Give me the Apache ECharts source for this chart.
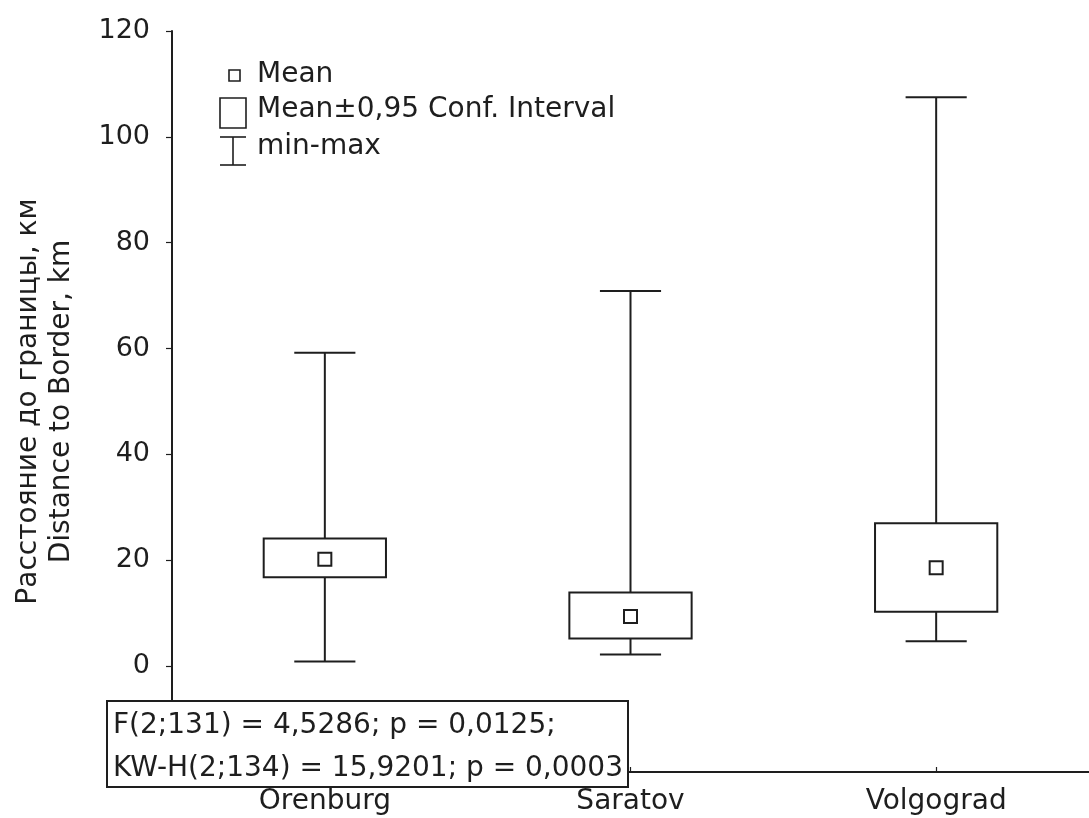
<!DOCTYPE html>
<html>
<head>
<meta charset="utf-8">
<script src="https://cdn.jsdelivr.net/npm/echarts@6/dist/echarts.min.js"></script>
<style>
  html, body { margin: 0; padding: 0; background: #fff; }
  #chart { width: 1089px; height: 818px; }
</style>
</head>
<body>
<div id="chart"></div>
<script>
// ---- data ----
const categories = ['Orenburg', 'Saratov', 'Volgograd'];
const minValues  = [0.9, 2.2, 4.7];
const ciLow      = [16.8, 5.2, 10.3];
const means      = [20.2, 9.4, 18.6];
const ciHigh     = [24.1, 13.9, 27.0];
const maxValues  = [59.2, 70.9, 107.5];
const yTicks     = { min: -20, max: 120, interval: 20 };
const yName      = ['Расстояние до границы, км', 'Distance to Border, km'];
const legendLabels = ['Mean', 'Mean±0,95 Conf. Interval', 'min-max'];
const statsLines = ['F(2;131) = 4,5286; p = 0,0125;', 'KW-H(2;134) = 15,9201; p = 0,0003'];

const FONT = 'DejaVu Sans';
const INK = '#1e1e1e';
const LW = 2;

const seriesData = categories.map((c, i) => [i, minValues[i], ciLow[i], means[i], ciHigh[i], maxValues[i]]);

function renderItem(params, api) {
  const x = api.value(0);
  const pMin = api.coord([x, api.value(1)]);
  const pLo = api.coord([x, api.value(2)]);
  const pMean = api.coord([x, api.value(3)]);
  const pHi = api.coord([x, api.value(4)]);
  const pMax = api.coord([x, api.value(5)]);
  const band = api.size([1, 0])[0];
  const boxW = band * 0.4;
  const capW = band * 0.2;
  const ms = 13;
  const cx = pMean[0];
  const st = { stroke: INK, lineWidth: LW, fill: null };
  return {
    type: 'group',
    children: [
      { type: 'line', shape: { x1: cx, y1: pMax[1], x2: cx, y2: pHi[1] }, style: st },
      { type: 'line', shape: { x1: cx, y1: pLo[1], x2: cx, y2: pMin[1] }, style: st },
      { type: 'line', shape: { x1: cx - capW / 2, y1: pMax[1], x2: cx + capW / 2, y2: pMax[1] }, style: st },
      { type: 'line', shape: { x1: cx - capW / 2, y1: pMin[1], x2: cx + capW / 2, y2: pMin[1] }, style: st },
      { type: 'rect', shape: { x: cx - boxW / 2, y: pHi[1], width: boxW, height: pLo[1] - pHi[1] },
        style: { stroke: INK, lineWidth: LW, fill: '#fff' } },
      { type: 'rect', shape: { x: cx - ms / 2, y: pMean[1] - ms / 2, width: ms, height: ms },
        style: { stroke: INK, lineWidth: LW, fill: '#fff' } }
    ]
  };
}

const chart = echarts.init(document.getElementById('chart'));
chart.setOption({
  backgroundColor: '#fff',
  animation: false,
  grid: { left: 172, top: 31, width: 927, bottom: 46, containLabel: false },
  xAxis: {
    type: 'category',
    data: categories,
    boundaryGap: true,
    axisLine: { onZero: false, lineStyle: { color: INK, width: LW } },
    axisTick: { show: true, inside: true, alignWithLabel: true, length: 5, lineStyle: { color: INK, width: 1.2 } },
    axisLabel: { color: INK, fontSize: 28, fontFamily: FONT, margin: 16 },
    splitLine: { show: false }
  },
  yAxis: {
    type: 'value',
    min: yTicks.min, max: yTicks.max, interval: yTicks.interval,
    name: yName.join('\n'),
    nameLocation: 'middle',
    nameGap: 94,
    nameTextStyle: { color: INK, fontSize: 28, fontFamily: FONT, lineHeight: 33 },
    axisLine: { show: true, lineStyle: { color: INK, width: LW } },
    axisTick: { show: true, length: 6, lineStyle: { color: INK, width: 1.2 } },
    axisLabel: { color: INK, fontSize: 27, fontFamily: FONT, margin: 22,
      formatter: v => (v < 0 ? '' : String(v)) },
    splitLine: { show: false }
  },
  series: [{
    type: 'custom',
    renderItem: renderItem,
    encode: { x: 0, y: [1, 2, 3, 4, 5] },
    data: seriesData,
    clip: false,
    z: 5
  }],
  graphic: [
    // legend
    { type: 'rect', z: 50, shape: { x: 229, y: 70, width: 11, height: 11 }, style: { stroke: INK, lineWidth: 1.6, fill: '#fff' } },
    { type: 'text', z: 50, left: 257, top: 61, style: { text: legendLabels[0], font: '28px "DejaVu Sans"', fill: INK } },
    { type: 'rect', z: 50, shape: { x: 220, y: 98, width: 26, height: 30 }, style: { stroke: INK, lineWidth: 1.6, fill: '#fff' } },
    { type: 'text', z: 50, left: 257, top: 96, style: { text: legendLabels[1], font: '28px "DejaVu Sans"', fill: INK } },
    { type: 'line', z: 50, shape: { x1: 220, y1: 137, x2: 246, y2: 137 }, style: { stroke: INK, lineWidth: 1.6 } },
    { type: 'line', z: 50, shape: { x1: 233, y1: 137, x2: 233, y2: 165 }, style: { stroke: INK, lineWidth: 1.6 } },
    { type: 'line', z: 50, shape: { x1: 220, y1: 165, x2: 246, y2: 165 }, style: { stroke: INK, lineWidth: 1.6 } },
    { type: 'text', z: 50, left: 257, top: 133, style: { text: legendLabels[2], font: '28px "DejaVu Sans"', fill: INK } },
    // stats box
    { type: 'rect', z: 100, shape: { x: 107, y: 701, width: 521, height: 86 }, style: { stroke: INK, lineWidth: LW, fill: '#fff' } },
    { type: 'text', z: 101, left: 113, top: 712, style: { text: statsLines[0], font: '28px "DejaVu Sans"', fill: INK } },
    { type: 'text', z: 101, left: 113, top: 755, style: { text: statsLines[1], font: '28px "DejaVu Sans"', fill: INK } }
  ]
});
</script>
</body>
</html>
